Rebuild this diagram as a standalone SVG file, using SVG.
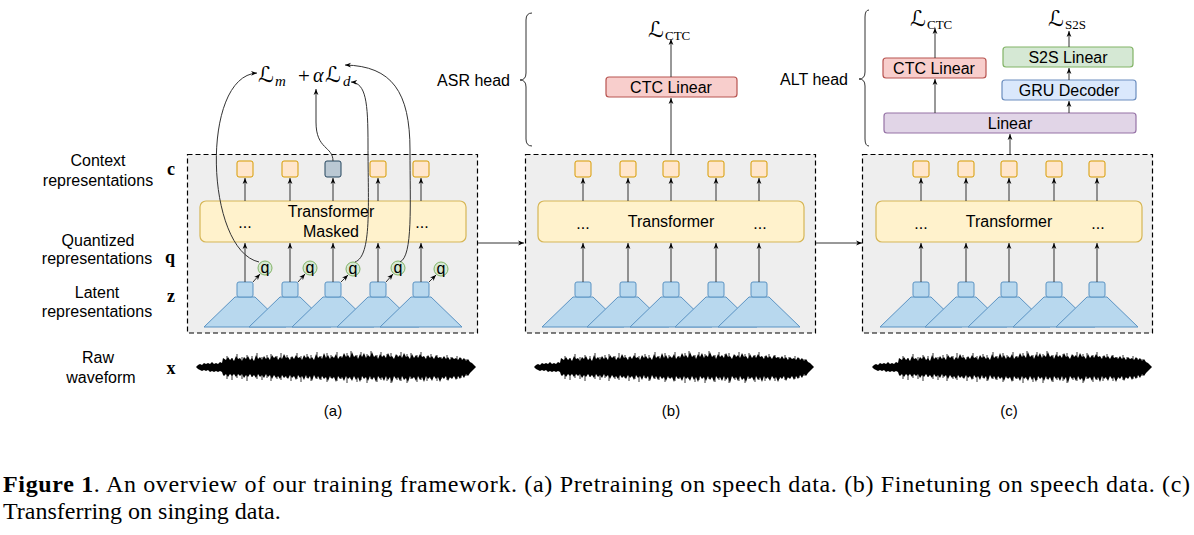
<svg xmlns="http://www.w3.org/2000/svg" xmlns:xlink="http://www.w3.org/1999/xlink" width="1194" height="535" viewBox="0 0 1194 535">
<style>
.lbl{font-family:"Liberation Sans",Arial,sans-serif;font-size:16px;fill:#000}
.cap{font-family:"Liberation Sans",Arial,sans-serif;font-size:15px;fill:#000}
.vb{font-family:"Liberation Serif","Times New Roman",serif;font-weight:bold;font-size:18px;fill:#000}
.math{font-family:"DejaVu Serif","DejaVu Sans",serif;font-size:22px;fill:#000}
.mi{font-family:"Liberation Serif","Times New Roman",serif;font-style:italic;fill:#000}
.rm{font-family:"Liberation Serif","Times New Roman",serif;fill:#000}
.sub{font-family:"Liberation Serif","Times New Roman",serif;font-size:13px;fill:#000}
.capt{font-family:"Liberation Serif","Times New Roman",serif;font-size:24px;fill:#000}
.frame{fill:#eeeeee;stroke:#000;stroke-width:1.2;stroke-dasharray:5 3}
.ctx{fill:#ffe6cc;stroke:#d79b00;stroke-width:1}
.msk{fill:#bac8d3;stroke:#23445d;stroke-width:1}
.tf{fill:#fff2cc;stroke:#d6b656;stroke-width:1.2}
.lat{fill:#b8d8ee;stroke:#5b93c3;stroke-width:1}
.qc{fill:#d5e8d4;stroke:#82b366;stroke-width:1}
.red{fill:#f8cecc;stroke:#b85450;stroke-width:1.2}
.grn{fill:#d5e8d4;stroke:#82b366;stroke-width:1.2}
.blu{fill:#dae8fc;stroke:#6c8ebf;stroke-width:1.2}
.pur{fill:#e1d5e7;stroke:#9673a6;stroke-width:1.2}
.arr{fill:none;stroke:#333;stroke-width:1;marker-end:url(#ah)}
.brace{fill:none;stroke:#333;stroke-width:1}
</style>
<defs>
<marker id="ah" viewBox="0 0 10 10" refX="10" refY="5" markerWidth="6" markerHeight="6" markerUnits="userSpaceOnUse" orient="auto">
<path d="M0,1 L10,5 L0,9 L3,5 z" fill="#000"/>
</marker>
<g id="wave">
<path fill="#000" d="M0,0 L2,-2 4,-3 6,-2 8,-4 10,-3 12,-4 14,-3 16,-5 18,-3 20,-4 22,-3 24,-5 26,-4 27,-9 30,-7 32,-10 34,-7 36,-9 38,-6 40,-11 42,-8 44,-9 46,-6 48,-10 50,-8 52,-11 54,-7 56,-9 58,-6 60,-12 62,-8 64,-10 66,-7 68,-11 70,-8 72,-10 74,-7 76,-12 78,-9 80,-11 82,-7 84,-10 86,-8 88,-13 90,-9 92,-10 94,-7 96,-11 98,-8 100,-12 102,-9 104,-10 106,-7 108,-12 110,-9 112,-11 114,-8 116,-10 118,-7 120,-13 122,-9 124,-11 126,-8 128,-14 130,-9 132,-12 134,-8 136,-11 138,-9 140,-13 142,-8 144,-11 146,-9 148,-14 150,-10 152,-12 154,-9 156,-15 158,-10 160,-12 162,-8 164,-13 166,-10 168,-14 170,-9 172,-12 174,-10 176,-15 178,-10 180,-12 182,-8 184,-13 186,-10 188,-12 190,-9 192,-14 194,-10 196,-11 198,-8 200,-13 202,-10 204,-12 206,-9 208,-14 210,-10 212,-11 214,-8 216,-13 218,-9 220,-12 222,-9 224,-13 226,-10 228,-11 230,-8 232,-12 234,-9 236,-11 238,-8 240,-12 242,-9 244,-10 246,-8 248,-11 250,-8 252,-10 254,-7 256,-10 258,-8 260,-9 262,-7 264,-10 266,-7 268,-9 270,-6 272,-8 274,-5 276,-4 278,-2 280,0 278,2 276,4 274,6 272,9 270,7 268,11 266,8 264,12 262,9 260,13 258,9 256,12 254,10 252,14 250,9 248,12 246,10 244,15 242,10 240,12 238,9 236,14 234,10 232,12 230,9 228,15 226,10 224,13 222,9 220,14 218,10 216,12 214,9 212,15 210,11 208,13 206,9 204,14 202,10 200,12 198,9 196,16 194,10 192,13 190,9 188,14 186,10 184,12 182,9 180,15 178,10 176,13 174,9 172,14 170,10 168,12 166,9 164,15 162,10 160,13 158,9 156,14 154,10 152,12 150,9 148,14 146,10 144,12 142,9 140,15 138,10 136,12 134,9 132,14 130,10 128,12 126,9 124,13 122,9 120,12 118,8 116,14 114,9 112,12 110,8 108,13 106,9 104,11 102,8 100,13 98,9 96,11 94,8 92,12 90,9 88,11 86,8 84,12 82,9 80,11 78,8 76,12 74,8 72,10 70,7 68,11 66,8 64,10 62,7 60,11 58,8 56,10 54,7 52,10 50,8 48,11 46,7 44,9 42,7 40,10 38,7 36,9 34,7 32,10 30,7 28,9 27,8 26,5 24,4 22,5 20,4 18,5 16,4 14,5 12,3 10,4 8,3 6,4 4,3 2,2 Z"/>
<path fill="none" stroke="#000" stroke-width="0.8" d="M31,-11V12 M36,-9V13 M41,-13V11 M46,-10V12 M51,-12V14 M56,-11V10 M61,-14V12 M66,-10V13 M71,-12V11 M75,-13V14 M81,-11V12 M85,-14V13 M91,-12V11 M95,-10V14 M101,-14V12 M105,-11V15 M111,-13V11 M115,-12V14 M121,-15V12 M125,-11V13 M131,-14V15 M135,-12V11 M141,-15V14 M145,-11V12 M151,-14V16 M155,-16V12 M161,-12V15 M165,-15V13 M171,-13V16 M175,-16V12 M181,-12V15 M185,-15V13 M191,-13V14 M195,-14V16 M201,-12V13 M205,-15V14 M211,-13V16 M215,-14V12 M221,-12V15 M225,-15V13 M231,-11V14 M235,-13V12 M241,-12V14 M245,-10V12 M251,-12V13 M255,-10V11 M261,-11V12 M265,-9V11 M270,-8V9"/>
</g>
</defs>
<rect width="1194" height="535" fill="#fff"/>

<g id="row-labels">
<text class="lbl" x="98" y="166" text-anchor="middle">Context</text>
<text class="lbl" x="98" y="186" text-anchor="middle">representations</text>
<text class="vb" x="171" y="175" text-anchor="middle">c</text>
<text class="lbl" x="98" y="246" text-anchor="middle">Quantized</text>
<text class="lbl" x="97" y="264" text-anchor="middle">representations</text>
<text class="vb" x="170" y="263" text-anchor="middle">q</text>
<text class="lbl" x="97" y="298" text-anchor="middle">Latent</text>
<text class="lbl" x="97" y="317" text-anchor="middle">representations</text>
<text class="vb" x="171" y="302" text-anchor="middle">z</text>
<text class="lbl" x="98" y="363" text-anchor="middle">Raw</text>
<text class="lbl" x="101" y="383" text-anchor="middle">waveform</text>
<text class="vb" x="171" y="374" text-anchor="middle">x</text>
</g>

<!-- Panel (a) -->
<g id="panel-a">
<rect class="frame" x="187.5" y="154.5" width="290" height="178.5"/>
<g id="a-context">
<rect class="ctx" x="237" y="161" width="16" height="16" rx="2"/>
<rect class="ctx" x="282" y="161" width="16" height="16" rx="2"/>
<rect class="msk" x="325" y="161" width="16" height="16" rx="2"/>
<rect class="ctx" x="370" y="161" width="16" height="16" rx="2"/>
<rect class="ctx" x="413" y="161" width="16" height="16" rx="2"/>
</g>
<g id="a-transformer">
<rect class="tf" x="200" y="201" width="266" height="41" rx="6"/>
<text class="lbl" x="331" y="217" text-anchor="middle">Transformer</text>
<text class="lbl" x="331" y="237" text-anchor="middle">Masked</text>
<text class="lbl" x="245" y="228" text-anchor="middle">...</text>
<text class="lbl" x="422" y="228" text-anchor="middle">...</text>
</g>
<g id="a-latent">
<polygon class="lat" points="235,297 255,297 286,327 204,327"/>
<rect class="lat" x="237" y="282" width="16" height="15" rx="2"/>
<polygon class="lat" points="280,297 300,297 331,327 249,327"/>
<rect class="lat" x="282" y="282" width="16" height="15" rx="2"/>
<polygon class="lat" points="323,297 343,297 374,327 292,327"/>
<rect class="lat" x="325" y="282" width="16" height="15" rx="2"/>
<polygon class="lat" points="368,297 388,297 419,327 337,327"/>
<rect class="lat" x="370" y="282" width="16" height="15" rx="2"/>
<polygon class="lat" points="411,297 431,297 462,327 380,327"/>
<rect class="lat" x="413" y="282" width="16" height="15" rx="2"/>
</g>
<g id="a-quantized">
<circle class="qc" cx="265" cy="268" r="7"/><text class="lbl" x="265" y="273" font-size="14" text-anchor="middle">q</text>
<circle class="qc" cx="310" cy="268" r="7"/><text class="lbl" x="310" y="273" font-size="14" text-anchor="middle">q</text>
<circle class="qc" cx="353" cy="269" r="7"/><text class="lbl" x="353" y="274" font-size="14" text-anchor="middle">q</text>
<circle class="qc" cx="398" cy="268" r="7"/><text class="lbl" x="398" y="273" font-size="14" text-anchor="middle">q</text>
<circle class="qc" cx="441" cy="269" r="7"/><text class="lbl" x="441" y="274" font-size="14" text-anchor="middle">q</text>
</g>
<g id="a-loss">
<text class="math" x="258" y="82">ℒ</text>
<text class="mi" x="275" y="86" font-size="15">m</text>
<text class="rm" x="304" y="83" font-size="21" text-anchor="middle">+</text>
<text class="mi" x="313" y="82" font-size="20">α</text>
<text class="math" x="325" y="82">ℒ</text>
<text class="mi" x="343" y="86" font-size="15">d</text>
</g>
<use xlink:href="#wave" href="#wave" transform="translate(196,367)"/>
<text class="cap" x="333" y="416" text-anchor="middle">(a)</text>
</g>

<!-- Panel (b) -->
<g id="panel-b" transform="translate(338,0)">
<rect class="frame" x="187.5" y="154.5" width="290" height="178.5"/>
<g id="b-context">
<rect class="ctx" x="237" y="161" width="16" height="16" rx="2"/>
<rect class="ctx" x="282" y="161" width="16" height="16" rx="2"/>
<rect class="ctx" x="325" y="161" width="16" height="16" rx="2"/>
<rect class="ctx" x="370" y="161" width="16" height="16" rx="2"/>
<rect class="ctx" x="413" y="161" width="16" height="16" rx="2"/>
</g>
<g id="b-transformer">
<rect class="tf" x="200" y="201" width="266" height="41" rx="6"/>
<text class="lbl" x="333" y="227" text-anchor="middle">Transformer</text>
<text class="lbl" x="245" y="229" text-anchor="middle">...</text>
<text class="lbl" x="422" y="229" text-anchor="middle">...</text>
</g>
<g id="b-latent">
<polygon class="lat" points="235,297 255,297 286,327 204,327"/>
<rect class="lat" x="237" y="282" width="16" height="15" rx="2"/>
<polygon class="lat" points="280,297 300,297 331,327 249,327"/>
<rect class="lat" x="282" y="282" width="16" height="15" rx="2"/>
<polygon class="lat" points="323,297 343,297 374,327 292,327"/>
<rect class="lat" x="325" y="282" width="16" height="15" rx="2"/>
<polygon class="lat" points="368,297 388,297 419,327 337,327"/>
<rect class="lat" x="370" y="282" width="16" height="15" rx="2"/>
<polygon class="lat" points="411,297 431,297 462,327 380,327"/>
<rect class="lat" x="413" y="282" width="16" height="15" rx="2"/>
</g>
<use xlink:href="#wave" href="#wave" transform="translate(196,367)"/>
<text class="cap" x="333" y="416" text-anchor="middle">(b)</text>
</g>

<!-- Panel (c) -->
<g id="panel-c" transform="translate(676,0)">
<rect class="frame" x="186.5" y="154.5" width="290" height="178.5"/>
<g id="c-context">
<rect class="ctx" x="237" y="161" width="16" height="16" rx="2"/>
<rect class="ctx" x="282" y="161" width="16" height="16" rx="2"/>
<rect class="ctx" x="325" y="161" width="16" height="16" rx="2"/>
<rect class="ctx" x="370" y="161" width="16" height="16" rx="2"/>
<rect class="ctx" x="413" y="161" width="16" height="16" rx="2"/>
</g>
<g id="c-transformer">
<rect class="tf" x="200" y="201" width="266" height="41" rx="6"/>
<text class="lbl" x="333" y="227" text-anchor="middle">Transformer</text>
<text class="lbl" x="245" y="229" text-anchor="middle">...</text>
<text class="lbl" x="422" y="229" text-anchor="middle">...</text>
</g>
<g id="c-latent">
<polygon class="lat" points="235,297 255,297 286,327 204,327"/>
<rect class="lat" x="237" y="282" width="16" height="15" rx="2"/>
<polygon class="lat" points="280,297 300,297 331,327 249,327"/>
<rect class="lat" x="282" y="282" width="16" height="15" rx="2"/>
<polygon class="lat" points="323,297 343,297 374,327 292,327"/>
<rect class="lat" x="325" y="282" width="16" height="15" rx="2"/>
<polygon class="lat" points="368,297 388,297 419,327 337,327"/>
<rect class="lat" x="370" y="282" width="16" height="15" rx="2"/>
<polygon class="lat" points="411,297 431,297 462,327 380,327"/>
<rect class="lat" x="413" y="282" width="16" height="15" rx="2"/>
</g>
<use xlink:href="#wave" href="#wave" transform="translate(196,367)"/>
<text class="cap" x="333" y="416" text-anchor="middle">(c)</text>
</g>

<!-- ASR head -->
<g id="asr-head">
<path class="brace" d="M532,13 Q526,13 526,20 L526,73 Q526,80 520,80 Q526,80 526,87 L526,139 Q526,146 532,146"/>
<text class="lbl" x="510" y="86" text-anchor="end">ASR head</text>
<g id="b-ctc-linear">
<rect class="red" x="606" y="77" width="131" height="20" rx="3"/>
<text class="lbl" x="671" y="93" text-anchor="middle">CTC Linear</text>
</g>
<g id="b-loss">
<text class="math" x="648" y="37">ℒ</text>
<text class="sub" x="665" y="40">CTC</text>
</g>
</g>

<!-- ALT head -->
<g id="alt-head">
<path class="brace" d="M869,10 Q865,10 865,17 L865,72 Q865,79 859,79 Q865,79 865,86 L865,139 Q865,146 869,146"/>
<text class="lbl" x="848" y="85" text-anchor="end">ALT head</text>
<g id="c-linear">
<rect class="pur" x="884" y="113" width="252" height="20" rx="3"/>
<text class="lbl" x="1010" y="129" text-anchor="middle">Linear</text>
</g>
<g id="c-ctc-linear">
<rect class="red" x="883" y="58" width="103" height="20" rx="3"/>
<text class="lbl" x="934" y="74" text-anchor="middle">CTC Linear</text>
</g>
<g id="c-gru">
<rect class="blu" x="1002" y="80" width="134" height="20" rx="3"/>
<text class="lbl" x="1069" y="96" text-anchor="middle">GRU Decoder</text>
</g>
<g id="c-s2s">
<rect class="grn" x="1003" y="47" width="130" height="20" rx="3"/>
<text class="lbl" x="1068" y="63" text-anchor="middle">S2S Linear</text>
</g>
<g id="c-loss-ctc">
<text class="math" x="910" y="26">ℒ</text>
<text class="sub" x="927" y="29">CTC</text>
</g>
<g id="c-loss-s2s">
<text class="math" x="1048" y="26">ℒ</text>
<text class="sub" x="1065" y="29">S2S</text>
</g>
</g>

<g id="connectors">
<path class="arr" d="M245,201 V178"/><path class="arr" d="M290,201 V178"/><path class="arr" d="M333,201 V178"/><path class="arr" d="M378,201 V178"/><path class="arr" d="M421,201 V178"/>
<path class="arr" d="M245,282 V243"/><path class="arr" d="M290,282 V243"/><path class="arr" d="M333,282 V243"/><path class="arr" d="M378,282 V243"/><path class="arr" d="M421,282 V243"/>
<path class="arr" d="M253,282 L260,274"/><path class="arr" d="M298,282 L305,274"/><path class="arr" d="M341,282 L348,275"/><path class="arr" d="M386,282 L393,274"/><path class="arr" d="M429,282 L436,275"/>
<path class="arr" d="M259,262 C205,250 200,76 257,73"/>
<path class="arr" d="M333,161 C333,146 316,150 316,122 L316,89"/>
<path class="arr" d="M355,262 C372,256 368,205 368,145 C368,102 366,83 351,82"/>
<path class="arr" d="M400,262 C413,256 410,205 410,150 C410,92 392,66 345,65"/>
<path class="arr" d="M583,201 V178"/><path class="arr" d="M628,201 V178"/><path class="arr" d="M671,201 V178"/><path class="arr" d="M716,201 V178"/><path class="arr" d="M759,201 V178"/>
<path class="arr" d="M583,282 V243"/><path class="arr" d="M628,282 V243"/><path class="arr" d="M671,282 V243"/><path class="arr" d="M716,282 V243"/><path class="arr" d="M759,282 V243"/>
<path class="arr" d="M921,201 V178"/><path class="arr" d="M966,201 V178"/><path class="arr" d="M1009,201 V178"/><path class="arr" d="M1054,201 V178"/><path class="arr" d="M1097,201 V178"/>
<path class="arr" d="M921,282 V243"/><path class="arr" d="M966,282 V243"/><path class="arr" d="M1009,282 V243"/><path class="arr" d="M1054,282 V243"/><path class="arr" d="M1097,282 V243"/>
<path class="arr" d="M478,243 H524"/>
<path class="arr" d="M816,243 H862"/>
<path class="arr" d="M671,154 V98"/>
<path class="arr" d="M671,77 V39"/>
<path class="arr" d="M1010,154 V134"/>
<path class="arr" d="M935,113 V79"/>
<path class="arr" d="M935,58 V28"/>
<path class="arr" d="M1069,113 V101"/>
<path class="arr" d="M1069,80 V68"/>
<path class="arr" d="M1069,47 V31"/>
</g>

<g id="caption">
<text class="capt" x="3" y="492" textLength="1187" lengthAdjust="spacing"><tspan font-weight="bold">Figure 1</tspan>.  An overview of our training framework.  (a) Pretraining on speech data.  (b) Finetuning on speech data.  (c)</text>
<text class="capt" x="3" y="519">Transferring on singing data.</text>
</g>
</svg>
